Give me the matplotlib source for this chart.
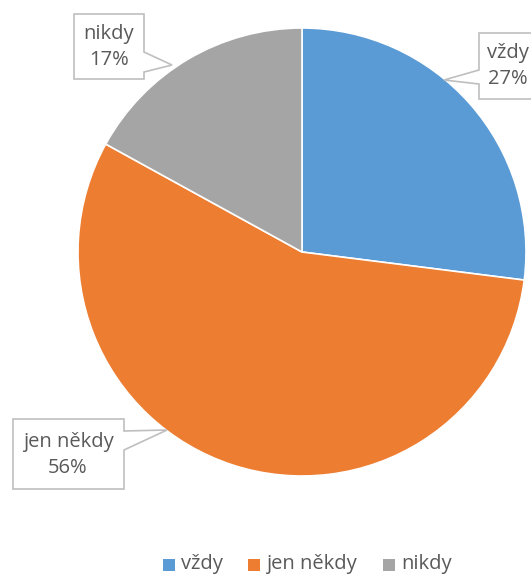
import matplotlib.pyplot as plt
from matplotlib.patches import Polygon, Rectangle

W, H = 531, 575

labels = ["vždy", "jen někdy", "nikdy"]
shares = [27, 56, 17]
colors = ["#5B9BD5", "#ED7D31", "#A5A5A5"]

# callout boxes in pixel coords: (left, top, right, bottom), pointer side and tip
callouts = [
    dict(box=(479, 33, 545, 99), side="left", base=(70, 84), tip=(444, 80)),
    dict(box=(13, 419, 124, 489), side="right", base=(431, 450), tip=(167, 430)),
    dict(box=(74, 14, 144, 79), side="right", base=(52, 72), tip=(172, 65)),
]
text_pos = [(508, 66), (68, 455), (109, 47)]

TEXT = "#595959"
plt.rcParams['font.family'] = ['Open Sans', 'DejaVu Sans']


def flip(y):
    return H - y


fig = plt.figure(figsize=(W / 100, H / 100), dpi=100)
ax = fig.add_axes([0, 0, 1, 1])

ax.pie(shares, colors=colors, startangle=90, counterclock=False,
       center=(302, flip(252)), radius=224,
       wedgeprops=dict(edgecolor="white", linewidth=1.2), frame=True)

for c, (tx, ty), lab, val in zip(callouts, text_pos, labels, shares):
    l, t, r, b = c["box"]
    y0, y1 = c["base"]
    tipx, tipy = c["tip"]
    if c["side"] == "left":
        pts = [(l, t), (r, t), (r, b), (l, b), (l, y1), (tipx, tipy), (l, y0)]
    else:
        pts = [(l, t), (r, t), (r, y0), (tipx, tipy), (r, y1), (r, b), (l, b)]
    pts = [(x, flip(y)) for x, y in pts]
    ax.add_patch(Polygon(pts, closed=True, facecolor="white",
                         edgecolor="#BFBFBF", linewidth=1.2, zorder=5))
    ax.text(tx, flip(ty), f"{lab}\n{val}%", ha="center", va="center",
            fontsize=14.5, color=TEXT, linespacing=1.4, zorder=6)

# legend along the bottom
legend_x = [163, 248, 383]
for x, lab, col in zip(legend_x, labels, colors):
    ax.add_patch(Rectangle((x, flip(571)), 12, 12, facecolor=col, edgecolor="none"))
    ax.text(x + 18, flip(564), lab, ha="left", va="center",
            fontsize=14.5, color=TEXT)

ax.set_xlim(0, W)
ax.set_ylim(0, H)
ax.set_aspect("auto")
ax.axis("off")

fig.savefig("out.png", dpi=100)
